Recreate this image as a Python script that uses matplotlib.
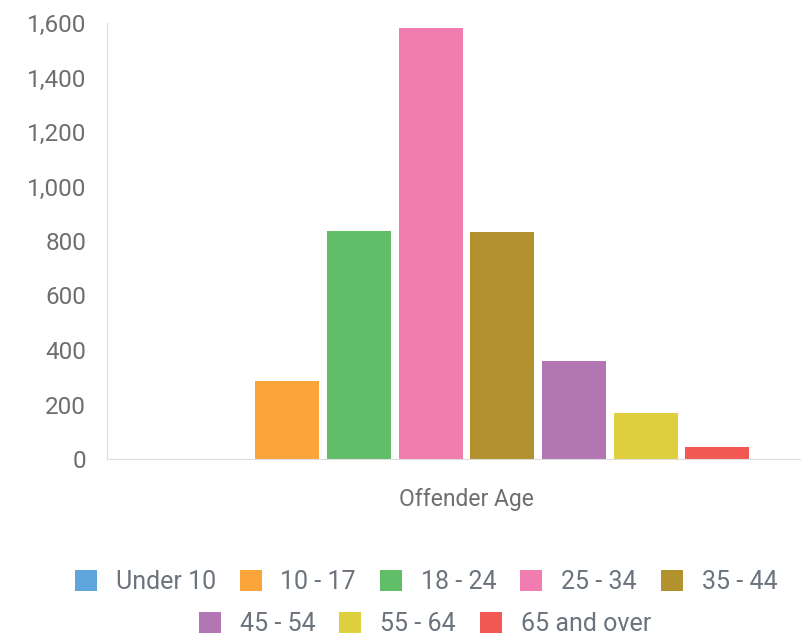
import matplotlib.pyplot as plt
from matplotlib.patches import Patch
from matplotlib.ticker import FuncFormatter, MultipleLocator

plt.rcParams['font.family'] = ['Roboto', 'DejaVu Sans']

# offender age counts
age_groups = ["Under 10", "10 - 17", "18 - 24", "25 - 34",
              "35 - 44", "45 - 54", "55 - 64", "65 and over"]
counts = [1, 286, 837, 1582, 833, 360, 169, 44]
colors = ["#5da5da", "#faa43a", "#60bd68", "#f17cb0",
          "#b2912f", "#b276b2", "#decf3f", "#f15854"]

W, H = 801, 643
fig = plt.figure(figsize=(W / 100, H / 100), dpi=100)
ax = fig.add_axes([107 / W, 184 / H, (W - 107) / W, 436 / H])

xs = list(range(len(age_groups)))
ax.bar(xs, counts, width=0.893, color=colors)

ax.set_xlim(-1.513, 8.166)
ax.set_ylim(0, 1600)
ax.yaxis.set_major_locator(MultipleLocator(200))
ax.yaxis.set_major_formatter(FuncFormatter(lambda v, p: f"{int(v):,}"))
ax.tick_params(axis='y', length=0, pad=15, labelsize=17.5, labelcolor="#6e6e6e")
ax.set_xticks([])

for s in ["top", "right"]:
    ax.spines[s].set_visible(False)
ax.spines["left"].set_color("#dddddd")
ax.spines["bottom"].set_color("#dddddd")

# category label under the group
ax.text(3.5, -0.092, "Offender Age", transform=ax.get_xaxis_transform(),
        ha="center", va="center", fontsize=16.5, color="#6e6e6e")

handles = [Patch(facecolor=c, edgecolor="none") for c in colors]
legend_kw = dict(frameon=False, fontsize=18, labelcolor="#6b737c",
                 handlelength=0.88, handleheight=0.88, handletextpad=0.76,
                 columnspacing=0.95, borderaxespad=0, borderpad=0)
leg1 = fig.legend(handles[:5], age_groups[:5], ncol=5, loc="center",
                  bbox_to_anchor=(426 / W, 1 - 582 / H), **legend_kw)
leg2 = fig.legend(handles[5:], age_groups[5:], ncol=3, loc="center",
                  bbox_to_anchor=(425 / W, 1 - 624 / H), **legend_kw)

fig.savefig("out.png", dpi=100)
